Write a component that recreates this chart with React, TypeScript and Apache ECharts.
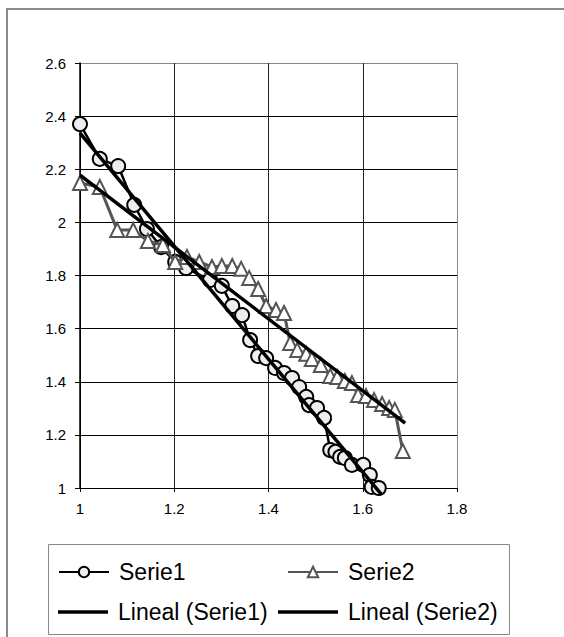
import React, { useEffect, useRef } from "react";
import * as echarts from "echarts";

const FONT = "'Liberation Sans', Arial, Helvetica, sans-serif";

// Serie1 (circles)
const S1_X = [1.000, 1.042, 1.081, 1.115, 1.142, 1.172, 1.202, 1.225, 1.276, 1.301, 1.323, 1.344, 1.361, 1.378, 1.395, 1.414, 1.433, 1.450, 1.465, 1.480, 1.486, 1.503, 1.518, 1.531, 1.542, 1.552, 1.562, 1.577, 1.601, 1.615, 1.619, 1.634];
const S1_Y = [2.370, 2.239, 2.212, 2.066, 1.975, 1.907, 1.851, 1.828, 1.783, 1.761, 1.685, 1.651, 1.557, 1.497, 1.489, 1.452, 1.433, 1.414, 1.380, 1.343, 1.312, 1.301, 1.264, 1.143, 1.136, 1.117, 1.113, 1.087, 1.087, 1.049, 1.004, 1.000];

// Serie2 (triangles)
const S2_X = [1.000, 1.042, 1.079, 1.113, 1.144, 1.176, 1.202, 1.227, 1.253, 1.280, 1.301, 1.323, 1.342, 1.359, 1.378, 1.395, 1.416, 1.433, 1.446, 1.461, 1.480, 1.492, 1.511, 1.531, 1.546, 1.562, 1.577, 1.590, 1.607, 1.624, 1.641, 1.656, 1.668, 1.685];
const S2_Y = [2.148, 2.133, 1.971, 1.971, 1.930, 1.915, 1.851, 1.870, 1.851, 1.832, 1.836, 1.836, 1.825, 1.791, 1.749, 1.685, 1.670, 1.659, 1.546, 1.520, 1.505, 1.486, 1.463, 1.422, 1.418, 1.403, 1.395, 1.350, 1.346, 1.331, 1.316, 1.301, 1.294, 1.139];

// Linear trend lines (end points)
const T1_X = [1.0, 1.64];
const T1_Y = [2.336, 0.975];
const T2_X = [1.0, 1.69];
const T2_Y = [2.178, 1.244];

const NAMES = ["Serie1", "Serie2", "Lineal (Serie1)", "Lineal (Serie2)"];

const zip = (xs: number[], ys: number[]) => xs.map((x, i) => [x, ys[i]]);

export default function App() {
  const ref = useRef<HTMLDivElement>(null);
  useEffect(() => {
    if (!ref.current) return;
    const chart = echarts.init(ref.current, null, { renderer: "svg" });
    const legendCommon = {
      orient: "horizontal" as const,
      itemWidth: 50,
      itemHeight: 13,
      padding: 0,
      itemGap: 0,
      textStyle: { fontSize: 23, fontFamily: FONT, color: "#000", lineHeight: 24, padding: [0, 0, 0, 5] },
    };
    chart.setOption({
      animation: false,
      backgroundColor: "#fff",
      grid: { left: 80, right: 107, top: 63, bottom: 149, show: false },
      xAxis: {
        type: "value",
        min: 1,
        max: 1.8,
        interval: 0.2,
        axisLine: { show: true, onZero: false, lineStyle: { color: "#000", width: 1 } },
        axisTick: { show: true, length: 4, lineStyle: { color: "#000" } },
        axisLabel: { fontSize: 15, fontFamily: FONT, color: "#000", margin: 13 },
        splitLine: { show: true, lineStyle: { color: ["#000", "#222", "#222", "#222", "#888"], width: 1 } },
      },
      yAxis: {
        type: "value",
        min: 1,
        max: 2.6,
        interval: 0.2,
        axisLine: { show: true, onZero: false, lineStyle: { color: "#000", width: 1.5 } },
        axisTick: { show: true, length: 5, lineStyle: { color: "#000" } },
        axisLabel: { fontSize: 15, fontFamily: FONT, color: "#000", margin: 14 },
        splitLine: {
          show: true,
          lineStyle: { color: ["#000", "#000", "#000", "#000", "#000", "#000", "#000", "#000", "#888"], width: 1 },
        },
      },
      legend: [
        { ...legendCommon, data: [NAMES[0]], left: 58, top: 560 },
        { ...legendCommon, data: [NAMES[1]], left: 287, top: 560 },
        { ...legendCommon, data: [{ name: NAMES[2], icon: "rect" }], left: 58, top: 600, itemHeight: 3.5 },
        { ...legendCommon, data: [{ name: NAMES[3], icon: "rect" }], left: 278, top: 600, itemWidth: 60, itemHeight: 3.5 },
      ],
      graphic: [
        {
          type: "rect",
          shape: { x: 7, y: 9, width: 700, height: 700 },
          style: { fill: "none", stroke: "#666", lineWidth: 1.5 },
          silent: true,
          z: -10,
        },
        {
          type: "rect",
          shape: { x: 48.5, y: 544.5, width: 461, height: 90 },
          style: { fill: "none", stroke: "#888", lineWidth: 1 },
          silent: true,
        },
      ],
      series: [
        {
          name: NAMES[0],
          type: "line",
          data: zip(S1_X, S1_Y),
          symbol: "circle",
          symbolSize: 14,
          clip: false,
          lineStyle: { color: "#000", width: 2.5 },
          itemStyle: { color: "#eeeeee", borderColor: "#000", borderWidth: 2 },
          z: 2,
        },
        {
          name: NAMES[1],
          type: "line",
          data: zip(S2_X, S2_Y),
          symbol: "triangle",
          symbolSize: 14,
          clip: false,
          lineStyle: { color: "#555", width: 3 },
          itemStyle: { color: "#fff", borderColor: "#555", borderWidth: 2 },
          z: 3,
        },
        {
          name: NAMES[2],
          type: "line",
          data: zip(T1_X, T1_Y),
          symbol: "none",
          clip: false,
          lineStyle: { color: "#000", width: 3.5 },
          itemStyle: { color: "#000" },
          z: 4,
        },
        {
          name: NAMES[3],
          type: "line",
          data: zip(T2_X, T2_Y),
          symbol: "none",
          clip: false,
          lineStyle: { color: "#000", width: 3.5 },
          itemStyle: { color: "#000" },
          z: 4,
        },
      ],
    });
    return () => chart.dispose();
  }, []);
  return (
    <div
      ref={ref}
      style={{ position: "fixed", left: 0, top: 0, width: 564, height: 637, background: "#fff" }}
    />
  );
}
